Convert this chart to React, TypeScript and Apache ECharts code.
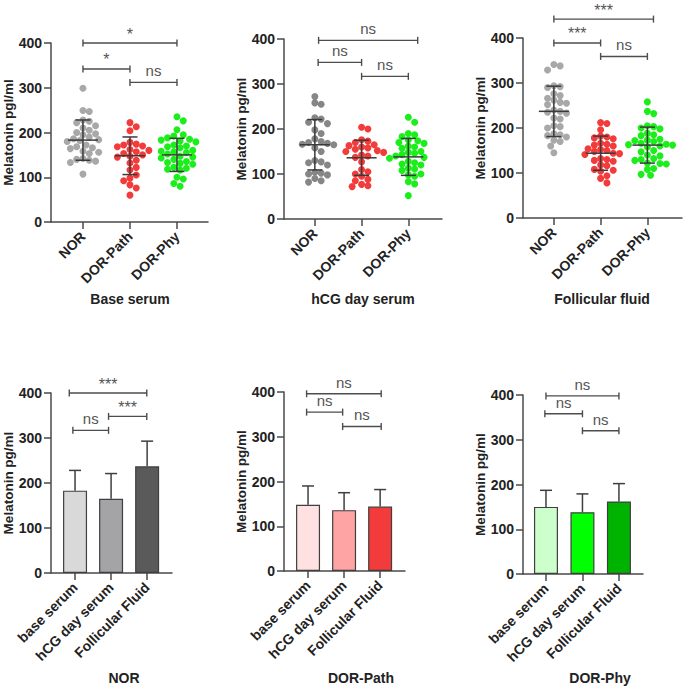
import React, { useEffect, useRef } from 'react';
import * as echarts from 'echarts';

// ---------- data ----------
const groupNames = ['NOR', 'DOR-Path', 'DOR-Phy'];
const sampleNames = ['base serum', 'hCG day serum', 'Follicular Fluid'];
const topTitles = ['Base serum', 'hCG day serum', 'Follicular fluid'];
const bottomTitles = ['NOR', 'DOR-Path', 'DOR-Phy'];
const yAxisNames = ['Melatonin pgl/ml', 'Melatonin pg/ml', 'Melatonin pg/ml', 'Melatonin pg/ml', 'Melatonin pg/ml', 'Melatonin pg/ml'];

// individual values (pg/ml)
const baseNOR = [299, 249, 247, 228, 225, 222, 215, 210, 205, 200, 197, 195, 190, 186, 184, 182, 180, 172, 168, 166, 164, 158, 156, 153, 142, 140, 138, 136, 133, 107];
const basePath = [222, 213, 204, 178, 174, 172, 170, 168, 162, 160, 157, 153, 150, 147, 145, 138, 132, 122, 116, 105, 98, 92, 83, 76, 60];
const basePhy = [235, 226, 206, 195, 192, 188, 185, 183, 181, 179, 172, 170, 168, 166, 160, 158, 157, 155, 152, 147, 145, 143, 140, 135, 133, 131, 129, 122, 120, 118, 116, 100, 96, 86, 80];
const hcgNOR = [272, 258, 255, 225, 222, 215, 212, 198, 190, 178, 172, 170, 168, 166, 165, 158, 150, 130, 127, 125, 120, 104, 102, 100, 98, 90, 85, 82];
const hcgPath = [204, 200, 176, 173, 170, 165, 163, 160, 158, 155, 152, 150, 148, 142, 140, 137, 127, 110, 105, 100, 95, 88, 85, 77, 74, 72];
const hcgPhy = [226, 215, 190, 187, 183, 176, 174, 170, 168, 162, 160, 157, 150, 148, 146, 143, 140, 137, 135, 128, 125, 122, 120, 113, 111, 108, 100, 98, 95, 83, 78, 52];
const ffNOR = [341, 338, 329, 294, 292, 290, 276, 272, 266, 262, 257, 255, 252, 240, 237, 235, 233, 222, 220, 205, 203, 200, 187, 185, 183, 180, 173, 170, 160, 145];
const ffPath = [212, 210, 196, 182, 180, 178, 176, 166, 164, 162, 160, 154, 152, 150, 148, 144, 143, 141, 132, 130, 128, 126, 118, 116, 108, 106, 104, 94, 88, 78];
const ffPhy = [258, 237, 232, 205, 203, 200, 198, 188, 185, 183, 175, 173, 172, 170, 166, 164, 163, 162, 160, 158, 150, 147, 140, 138, 132, 130, 128, 122, 121, 120, 110, 108, 97, 95];

// mean and SD (columns: base serum, hCG day serum, follicular fluid)
const meanNOR = [183, 165, 237];
const sdNOR = [45, 56, 56];
const meanPath = [148, 136, 144];
const sdPath = [42, 39, 38];
const meanPhy = [150, 138, 162];
const sdPhy = [37, 41, 40];

// significance brackets: [from, to, height]
const sigBase = [[1, 3, 400], [1, 2, 342], [2, 3, 312]];
const sigBaseLabels = ['*', '*', 'ns'];
const sigHcg = [[1.08, 3.2, 397], [1.07, 2, 348], [2, 3, 317]];
const sigHcgLabels = ['ns', 'ns', 'ns'];
const sigFF = [[1, 3.13, 442], [1, 2, 389], [2, 3, 359]];
const sigFFLabels = ['***', '***', 'ns'];
const sigNOR = [[0.84, 2.99, 400], [1.93, 2.99, 348], [0.94, 1.93, 317]];
const sigNORLabels = ['***', '***', 'ns'];
const sigPath = [[0.96, 3.03, 396], [0.96, 1.96, 355], [1.96, 3.03, 323]];
const sigPathLabels = ['ns', 'ns', 'ns'];
const sigPhy = [[1, 3, 398], [0.97, 2, 358], [2, 3, 320]];
const sigPhyLabels = ['ns', 'ns', 'ns'];

// ---------- styling / layout ----------
const FONT = "'Liberation Sans', Arial, Helvetica, sans-serif";
const AX = '#4a4a4a';
const LABEL = '#222';
const grids = [
  { left: 51, top: 43, width: 157, height: 179 },
  { left: 284, top: 39, width: 158, height: 180 },
  { left: 523, top: 38, width: 159, height: 180 },
  { left: 51, top: 393, width: 121, height: 180 },
  { left: 284, top: 392, width: 121, height: 179 },
  { left: 523, top: 395, width: 120, height: 179 },
];
const xRanges = [[0.32, 3.66], [0.34, 3.72], [0.34, 3.74], [0.333, 3.69], [0.333, 3.69], [0.37, 3.66]];
const dotColors = [
  ['#a8a8a8', '#f23b3b', '#1cee1c'],
  ['#868686', '#f23b3b', '#1cee1c'],
  ['#a8a8a8', '#f23b3b', '#1cee1c'],
];
const barColors = [
  ['#d9d9d9', '#a4a4a7', '#5a5a5a'],
  ['#ffe1e1', '#ffa4a4', '#f23b3b'],
  ['#ccffcc', '#00ff00', '#00b300'],
];
const topTitleX = [130, 363, 602];
const bottomTitleX = [124, 361, 600];

function swarm(values: number[], center: number, pxPerX: number, pxPerY: number) {
  const d = 6.3;
  const step = 3.15;
  const order = values.map((_, i) => i).sort((a, b) => values[b] - values[a]);
  const placed: { o: number; v: number }[] = [];
  const out: number[][] = new Array(values.length);
  for (const i of order) {
    const v = values[i];
    let off = 0;
    for (let k = 0; k < 60; k++) {
      const cand = k === 0 ? 0 : (k % 2 === 1 ? 1 : -1) * Math.ceil(k / 2) * step;
      const ok = placed.every((p) => {
        const dx = cand - p.o;
        const dy = (v - p.v) * pxPerY;
        return dx * dx + dy * dy >= d * d;
      });
      if (ok) {
        off = cand;
        break;
      }
    }
    placed.push({ o: off, v });
    out[i] = [center + off / pxPerX, v];
  }
  return out;
}

function bracketSeries(idx: number, data: number[][], labels: string[]) {
  return {
    type: 'custom',
    xAxisIndex: idx,
    yAxisIndex: idx,
    z: 10,
    clip: false,
    silent: true,
    data,
    encode: { x: [0, 1], y: 2 },
    renderItem: (params: any, api: any) => {
      const x1 = api.value(0);
      const x2 = api.value(1);
      const y = api.value(2);
      const p1 = api.coord([x1, y]);
      const p2 = api.coord([x2, y]);
      const st = { stroke: '#4d4d4d', lineWidth: 1.4, fill: 'none' };
      const label = labels[params.dataIndex];
      const star = label.indexOf('*') >= 0;
      return {
        type: 'group',
        children: [
          { type: 'line', shape: { x1: p1[0], y1: p1[1], x2: p2[0], y2: p2[1] }, style: st },
          { type: 'line', shape: { x1: p1[0], y1: p1[1] - 3.5, x2: p1[0], y2: p1[1] + 3.5 }, style: st },
          { type: 'line', shape: { x1: p2[0], y1: p2[1] - 3.5, x2: p2[0], y2: p2[1] + 3.5 }, style: st },
          {
            type: 'text',
            x: (p1[0] + p2[0]) / 2,
            y: p1[1] - (star ? 1 : 4),
            style: {
              text: label,
              fill: '#555',
              font: `${star ? 16 : 15}px ${FONT}`,
              align: 'center',
              verticalAlign: 'bottom',
              textAlign: 'center',
              textVerticalAlign: 'bottom',
            },
          },
        ],
      };
    },
  };
}

function buildOption() {
  const topValues = [
    [baseNOR, basePath, basePhy],
    [hcgNOR, hcgPath, hcgPhy],
    [ffNOR, ffPath, ffPhy],
  ];
  const means = [meanNOR, meanPath, meanPhy];
  const sds = [sdNOR, sdPath, sdPhy];
  const sigs = [sigBase, sigHcg, sigFF, sigNOR, sigPath, sigPhy];
  const sigLabels = [sigBaseLabels, sigHcgLabels, sigFFLabels, sigNORLabels, sigPathLabels, sigPhyLabels];

  const xAxis: any[] = [];
  const yAxis: any[] = [];
  const series: any[] = [];

  for (let i = 0; i < 6; i++) {
    const names = i < 3 ? groupNames : sampleNames;
    xAxis.push({
      gridIndex: i,
      type: 'value',
      min: xRanges[i][0],
      max: xRanges[i][1],
      splitLine: { show: false },
      axisLine: { show: true, onZero: false, lineStyle: { color: AX, width: 1.5 } },
      axisTick: { show: true, customValues: [1, 2, 3], length: 7, lineStyle: { color: AX, width: 1.5 } },
      axisLabel: {
        customValues: [1, 2, 3],
        rotate: 45,
        margin: 12,
        formatter: (v: number) => names[Math.round(v) - 1] || '',
        fontSize: 14,
        fontWeight: 'bold',
        color: LABEL,
        fontFamily: FONT,
      },
    });
    yAxis.push({
      gridIndex: i,
      type: 'value',
      min: 0,
      max: 400,
      interval: 100,
      splitLine: { show: false },
      axisLine: { show: true, lineStyle: { color: AX, width: 1.5 } },
      axisTick: { show: true, length: 7, lineStyle: { color: AX, width: 1.5 } },
      axisLabel: { fontSize: 14, fontWeight: 'bold', color: LABEL, fontFamily: FONT, margin: 9 },
    });
  }

  // top row: dot plots with mean ± SD
  for (let p = 0; p < 3; p++) {
    const pxPerX = grids[p].width / (xRanges[p][1] - xRanges[p][0]);
    const pxPerY = grids[p].height / 400;
    for (let g = 0; g < 3; g++) {
      series.push({
        type: 'scatter',
        xAxisIndex: p,
        yAxisIndex: p,
        symbol: 'circle',
        symbolSize: 7,
        itemStyle: { color: dotColors[p][g], opacity: 1 },
        silent: true,
        z: 2,
        data: swarm(topValues[p][g], g + 1, pxPerX, pxPerY),
      });
    }
    series.push({
      type: 'custom',
      xAxisIndex: p,
      yAxisIndex: p,
      z: 5,
      silent: true,
      data: [0, 1, 2].map((g) => [g + 1, means[g][p], sds[g][p]]),
      encode: { x: 0, y: 1 },
      renderItem: (_: any, api: any) => {
        const x = api.value(0);
        const m = api.value(1);
        const s = api.value(2);
        const pm = api.coord([x, m]);
        const pt = api.coord([x, m + s]);
        const pb = api.coord([x, m - s]);
        const st = { stroke: '#3a3a3a', lineWidth: 1.5 };
        return {
          type: 'group',
          children: [
            { type: 'line', shape: { x1: pm[0], y1: pt[1], x2: pm[0], y2: pb[1] }, style: st },
            { type: 'line', shape: { x1: pm[0] - 15, y1: pm[1], x2: pm[0] + 15, y2: pm[1] }, style: st },
            { type: 'line', shape: { x1: pm[0] - 7.5, y1: pt[1], x2: pm[0] + 7.5, y2: pt[1] }, style: st },
            { type: 'line', shape: { x1: pm[0] - 7.5, y1: pb[1], x2: pm[0] + 7.5, y2: pb[1] }, style: st },
          ],
        };
      },
    });
  }

  // bottom row: bar charts with SD (upper)
  for (let g = 0; g < 3; g++) {
    const idx = g + 3;
    series.push({
      type: 'bar',
      xAxisIndex: idx,
      yAxisIndex: idx,
      barWidth: 24,
      silent: true,
      z: 2,
      itemStyle: { borderColor: '#3f3f3f', borderWidth: 1.2 },
      data: [0, 1, 2].map((s) => ({ value: [s + 1, means[g][s]], itemStyle: { color: barColors[g][s] } })),
    });
    series.push({
      type: 'custom',
      xAxisIndex: idx,
      yAxisIndex: idx,
      z: 5,
      silent: true,
      data: [0, 1, 2].map((s) => [s + 1, means[g][s], sds[g][s]]),
      encode: { x: 0, y: 1 },
      renderItem: (_: any, api: any) => {
        const x = api.value(0);
        const m = api.value(1);
        const s = api.value(2);
        const pm = api.coord([x, m]);
        const pt = api.coord([x, m + s]);
        const st = { stroke: '#3f3f3f', lineWidth: 1.5 };
        return {
          type: 'group',
          children: [
            { type: 'line', shape: { x1: pm[0], y1: pt[1], x2: pm[0], y2: pm[1] }, style: st },
            { type: 'line', shape: { x1: pm[0] - 6, y1: pt[1], x2: pm[0] + 6, y2: pt[1] }, style: st },
          ],
        };
      },
    });
  }

  for (let i = 0; i < 6; i++) series.push(bracketSeries(i, sigs[i], sigLabels[i]));

  const graphic: any[] = [];
  for (let i = 0; i < 3; i++) {
    graphic.push({
      type: 'text',
      x: topTitleX[i],
      y: 299,
      style: { text: topTitles[i], font: `bold 14px ${FONT}`, fill: LABEL, align: 'center', verticalAlign: 'middle', textAlign: 'center', textVerticalAlign: 'middle' },
    });
    graphic.push({
      type: 'text',
      x: bottomTitleX[i],
      y: 678,
      style: { text: bottomTitles[i], font: `bold 14px ${FONT}`, fill: LABEL, align: 'center', verticalAlign: 'middle', textAlign: 'center', textVerticalAlign: 'middle' },
    });
  }
  for (let i = 0; i < 6; i++) {
    const gx = grids[i].left - 43;
    const gy = grids[i].top + grids[i].height / 2;
    graphic.push({
      type: 'text',
      x: gx,
      y: gy,
      rotation: Math.PI / 2,
      style: { text: yAxisNames[i], font: `bold 13.5px ${FONT}`, fill: LABEL, align: 'center', verticalAlign: 'middle', textAlign: 'center', textVerticalAlign: 'middle' },
    });
  }

  return {
    animation: false,
    backgroundColor: '#ffffff',
    textStyle: { fontFamily: FONT },
    grid: grids.map((g) => ({ ...g, containLabel: false })),
    xAxis,
    yAxis,
    series,
    graphic,
  };
}

export default function App() {
  const ref = useRef<HTMLDivElement>(null);
  useEffect(() => {
    if (!ref.current) return;
    const chart = echarts.init(ref.current, null, { renderer: 'svg' });
    chart.setOption(buildOption() as any);
    return () => chart.dispose();
  }, []);
  return (
    <div
      ref={ref}
      style={{ position: 'fixed', left: 0, top: 0, width: 685, height: 687, background: '#fff' }}
    />
  );
}
